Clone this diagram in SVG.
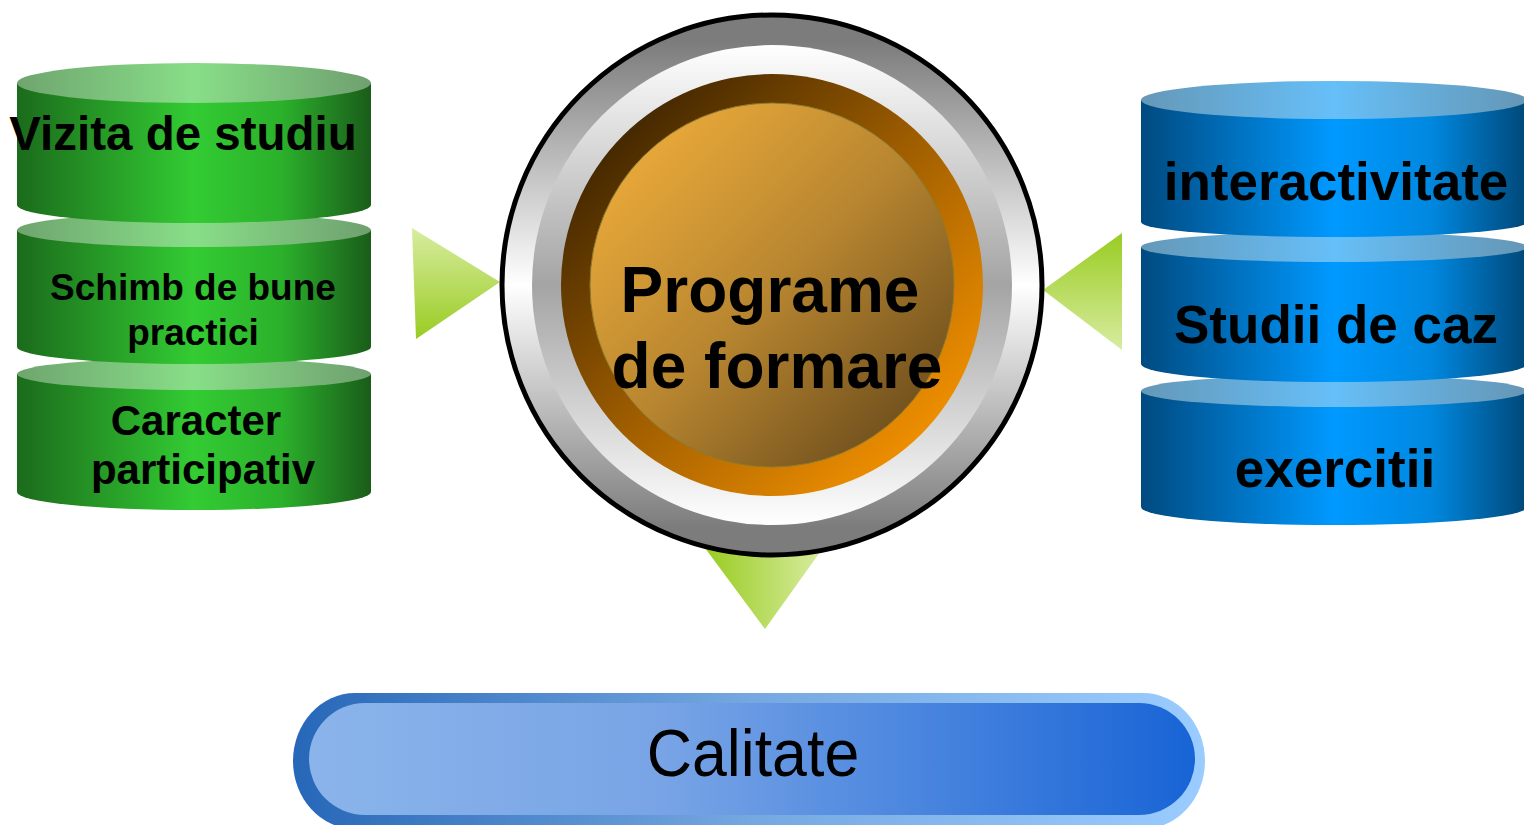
<svg xmlns="http://www.w3.org/2000/svg" width="1524" height="825" viewBox="0 0 1524 825">
<defs>
<linearGradient id="gBody" x1="0" y1="0" x2="1" y2="0">
<stop offset="0" stop-color="#1b6b1b"/><stop offset="0.5" stop-color="#33cc33"/><stop offset="0.75" stop-color="#2bb02b"/><stop offset="1" stop-color="#1a5c1a"/>
</linearGradient>
<linearGradient id="gTop" x1="0" y1="0" x2="1" y2="0">
<stop offset="0" stop-color="#6fa56f"/><stop offset="0.5" stop-color="#88de88"/><stop offset="1" stop-color="#6fa06f"/>
</linearGradient>
<linearGradient id="bBody" x1="0" y1="0" x2="1" y2="0">
<stop offset="0" stop-color="#004a80"/><stop offset="0.5" stop-color="#0099ff"/><stop offset="0.75" stop-color="#0088e0"/><stop offset="1" stop-color="#004878"/>
</linearGradient>
<linearGradient id="bTop" x1="0" y1="0" x2="1" y2="0">
<stop offset="0" stop-color="#6598b8"/><stop offset="0.5" stop-color="#66bff8"/><stop offset="1" stop-color="#6596b5"/>
</linearGradient>
<linearGradient id="ringOuter" x1="0" y1="0" x2="0" y2="1">
<stop offset="0.05" stop-color="#7c7c7c"/><stop offset="0.5" stop-color="#ffffff"/><stop offset="0.95" stop-color="#7c7c7c"/>
</linearGradient>
<linearGradient id="ringInner" x1="0" y1="0" x2="0" y2="1">
<stop offset="0" stop-color="#ffffff"/><stop offset="0.5" stop-color="#a4a4a4"/><stop offset="1" stop-color="#ffffff"/>
</linearGradient>
<linearGradient id="orangeRing" x1="0" y1="0" x2="1" y2="1">
<stop offset="0.1" stop-color="#3a2200"/><stop offset="0.5" stop-color="#a05e00"/><stop offset="0.9" stop-color="#f79400"/>
</linearGradient>
<linearGradient id="orangeCore" x1="0" y1="0" x2="1" y2="1">
<stop offset="0.1" stop-color="#ecab3a"/><stop offset="0.5" stop-color="#b88630"/><stop offset="0.9" stop-color="#6c4d1c"/>
</linearGradient>
<linearGradient id="triDown" x1="0" y1="0" x2="0" y2="1">
<stop offset="0" stop-color="#d8eca0"/><stop offset="1" stop-color="#99cc22"/>
</linearGradient>
<linearGradient id="triUp" x1="0" y1="0" x2="0" y2="1">
<stop offset="0" stop-color="#99cc22"/><stop offset="1" stop-color="#d8eca0"/>
</linearGradient>
<linearGradient id="triH" x1="0" y1="0" x2="1" y2="0">
<stop offset="0" stop-color="#99cc22"/><stop offset="1" stop-color="#d8eca0"/>
</linearGradient>
<linearGradient id="barOuter" x1="0" y1="0" x2="1" y2="0">
<stop offset="0" stop-color="#2767b8"/><stop offset="0.5" stop-color="#75a8e0"/><stop offset="1" stop-color="#9accff"/>
</linearGradient>
<linearGradient id="barInner" x1="0" y1="0" x2="1" y2="0">
<stop offset="0" stop-color="#8ab4ea"/><stop offset="0.4" stop-color="#78a4e6"/><stop offset="1" stop-color="#1864d6"/>
</linearGradient>
</defs>
<style>
.t{font-family:"Liberation Sans",Arial,sans-serif;font-weight:bold;fill:#000;text-anchor:middle}
.n{font-family:"Liberation Sans",Arial,sans-serif;fill:#000;text-anchor:middle}
</style>

<g id="connectors">
<polygon points="412,228 416,339 500,282" fill="url(#triDown)"/>
<polygon points="1122,233 1122,350 1043,290" fill="url(#triUp)"/>
<polygon points="705,548 823,548 765,629" fill="url(#triH)"/>
</g>

<g id="green-cylinders">
<g id="cyl-caracter">
<path d="M17,374 L17,492 A177,18 0 0 0 371,492 L371,374 Z" fill="url(#gBody)"/>
<ellipse cx="194" cy="374" rx="177" ry="16" fill="url(#gTop)"/>
<text class="t" x="196" y="435" font-size="42">Caracter</text>
<text class="t" x="203" y="484" font-size="42">participativ</text>
</g>
<g id="cyl-schimb">
<path d="M17,230 L17,347 A177,17 0 0 0 371,347 L371,230 Z" fill="url(#gBody)"/>
<ellipse cx="194" cy="230" rx="177" ry="17" fill="url(#gTop)"/>
<text class="t" x="193" y="300" font-size="37">Schimb de bune</text>
<text class="t" x="193" y="345" font-size="37">practici</text>
</g>
<g id="cyl-vizita">
<path d="M17,83 L17,205 A177,18 0 0 0 371,205 L371,83 Z" fill="url(#gBody)"/>
<ellipse cx="194" cy="83" rx="177" ry="20" fill="url(#gTop)"/>
<text class="t" x="183" y="150" font-size="47.5">Vizita de studiu</text>
</g>
</g>

<g id="blue-cylinders">
<g id="cyl-exercitii">
<path d="M1141,391 L1141,507 A193,18 0 0 0 1527,507 L1527,391 Z" fill="url(#bBody)"/>
<ellipse cx="1334" cy="391" rx="193" ry="16" fill="url(#bTop)"/>
<text class="t" x="1335" y="487" font-size="53">exercitii</text>
</g>
<g id="cyl-studii">
<path d="M1141,247 L1141,364 A193,18 0 0 0 1527,364 L1527,247 Z" fill="url(#bBody)"/>
<ellipse cx="1334" cy="247" rx="193" ry="15" fill="url(#bTop)"/>
<text class="t" x="1336" y="343" font-size="53">Studii de caz</text>
</g>
<g id="cyl-interactivitate">
<path d="M1141,100 L1141,222 A193,15 0 0 0 1527,222 L1527,100 Z" fill="url(#bBody)"/>
<ellipse cx="1334" cy="100" rx="193" ry="19" fill="url(#bTop)"/>
<text class="t" x="1336" y="200" font-size="53">interactivitate</text>
</g>
</g>

<g id="programe-de-formare">
<circle cx="772" cy="285" r="270" fill="url(#ringOuter)" stroke="#000" stroke-width="5"/>
<circle cx="772" cy="285" r="240" fill="url(#ringInner)"/>
<circle cx="772" cy="285" r="211" fill="url(#orangeRing)"/>
<circle cx="772" cy="285" r="182" fill="url(#orangeCore)" stroke="#8a7a30" stroke-width="1"/>
<text class="t" x="770" y="312" font-size="64">Programe</text>
<text class="t" x="777" y="388" font-size="64">de formare</text>
</g>

<g id="calitate">
<rect x="293" y="693" width="912" height="136" rx="62" ry="68" fill="url(#barOuter)"/>
<rect x="309" y="703" width="886" height="112" rx="56" ry="56" fill="url(#barInner)"/>
<text class="n" x="753" y="776" font-size="66" transform="translate(753 0) scale(0.95 1) translate(-753 0)">Calitate</text>
</g>
</svg>
